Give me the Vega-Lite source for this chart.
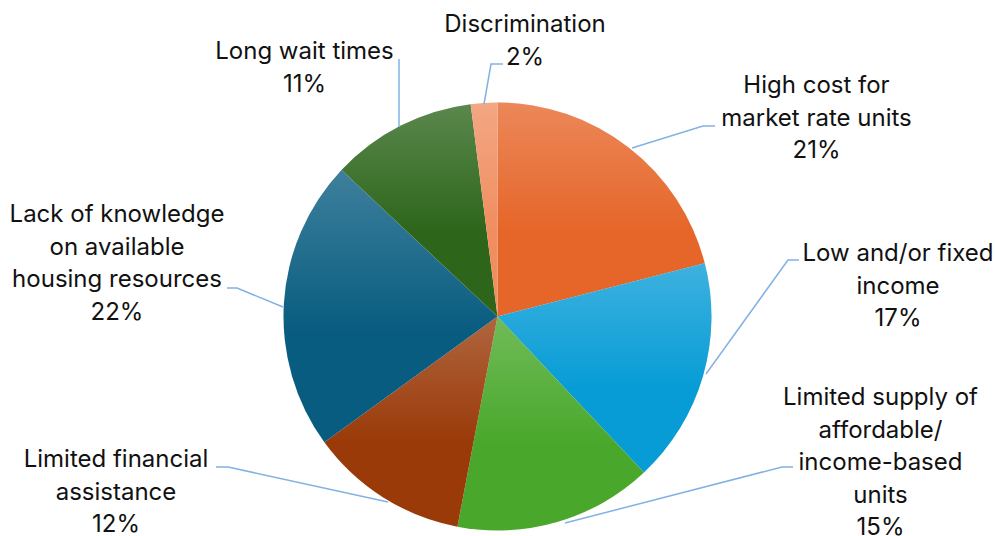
{
  "$schema": "https://vega.github.io/schema/vega-lite/v6.json",
  "width": 995,
  "height": 439,
  "autosize": {"type": "none"},
  "padding": {"left": 0, "right": 0, "top": 97, "bottom": 0},
  "background": "white",
  "config": {"view": {"stroke": null}},
  "data": {
    "values": [
      {"cause": "High cost for\nmarket rate units", "pct": 21},
      {"cause": "Low and/or fixed\nincome", "pct": 17},
      {"cause": "Limited supply of\naffordable/\nincome-based\nunits", "pct": 15},
      {"cause": "Limited financial\nassistance", "pct": 12},
      {"cause": "Lack of knowledge\non available\nhousing resources", "pct": 22},
      {"cause": "Long wait times", "pct": 11},
      {"cause": "Discrimination", "pct": 2}
    ]
  },
  "transform": [
    {"window": [{"op": "row_number", "as": "idx"}]},
    {"calculate": "datum.cause + '\\n' + datum.pct + '%'", "as": "label"}
  ],
  "layer": [
    {
      "mark": {"type": "arc", "radius": 214},
      "encoding": {
        "theta": {"field": "pct", "type": "quantitative", "stack": true},
        "order": {"field": "idx", "type": "quantitative"},
        "color": {
          "field": "cause",
          "type": "nominal",
          "scale": {
            "domain": [
              "High cost for\nmarket rate units",
              "Low and/or fixed\nincome",
              "Limited supply of\naffordable/\nincome-based\nunits",
              "Limited financial\nassistance",
              "Lack of knowledge\non available\nhousing resources",
              "Long wait times",
              "Discrimination"
            ],
            "range": ["#E6662A", "#079CD6", "#49A82B", "#9A3A09", "#085C80", "#2D661B", "#F08E60"]
          },
          "legend": null
        }
      }
    },
    {
      "mark": {
        "type": "arc",
        "radius": 214,
        "fill": {
          "gradient": "linear",
          "x1": 0, "y1": 0, "x2": 0, "y2": 1,
          "stops": [
            {"offset": 0, "color": "rgba(255,255,255,0.22)"},
            {"offset": 0.6, "color": "rgba(255,255,255,0)"},
            {"offset": 1, "color": "rgba(255,255,255,0)"}
          ]
        }
      },
      "encoding": {
        "theta": {"field": "pct", "type": "quantitative", "stack": true},
        "order": {"field": "idx", "type": "quantitative"},
        "detail": {"field": "cause", "type": "nominal"}
      }
    },
    {
      "mark": {"type": "point", "size": 4, "filled": false, "opacity": 1, "stroke": "#82B2E4", "strokeWidth": 1.5},
      "encoding": {
        "shape": {
          "field": "cause",
          "type": "nominal",
          "scale": {
            "domain": [
              "High cost for\nmarket rate units",
              "Low and/or fixed\nincome",
              "Limited supply of\naffordable/\nincome-based\nunits",
              "Limited financial\nassistance",
              "Lack of knowledge\non available\nhousing resources",
              "Long wait times",
              "Discrimination"
            ],
            "range": [
              "M217.5,-190.5L205.5,-190.5L134.5,-168.5",
              "M301.5,-56.5L290.5,-56.5L208.5,57.5",
              "M295.5,150.5L284.5,150.5L67.5,206.5",
              "M-281.5,150.5L-269.5,150.5L-109.5,185.5",
              "M-270.5,-28.5L-260.5,-28.5L-214.5,-9.5",
              "M-98.5,-257.5L-98.5,-189.5",
              "M5.5,-252.5L-6.5,-252.5L-13.5,-212.5"
            ]
          },
          "legend": null
        }
      }
    },
    {
      "mark": {
        "type": "text",
        "font": "Inter",
        "fontSize": 24,
        "lineHeight": 32.5,
        "lineBreak": "\n",
        "align": "center",
        "baseline": "alphabetic",
        "color": "#111111"
      },
      "encoding": {
        "x": {
          "field": "idx",
          "type": "quantitative",
          "scale": {"domain": [1, 2, 3, 4, 5, 6, 7], "range": [816.5, 898, 880.5, 116, 117, 304.5, 525], "zero": false, "nice": false},
          "axis": null
        },
        "y": {
          "field": "idx",
          "type": "quantitative",
          "scale": {"domain": [1, 2, 3, 4, 5, 6, 7], "range": [-4, 164, 308, 370, 125, -38, -65], "zero": false, "nice": false},
          "axis": null
        },
        "text": {"field": "label", "type": "nominal"}
      }
    }
  ]
}
